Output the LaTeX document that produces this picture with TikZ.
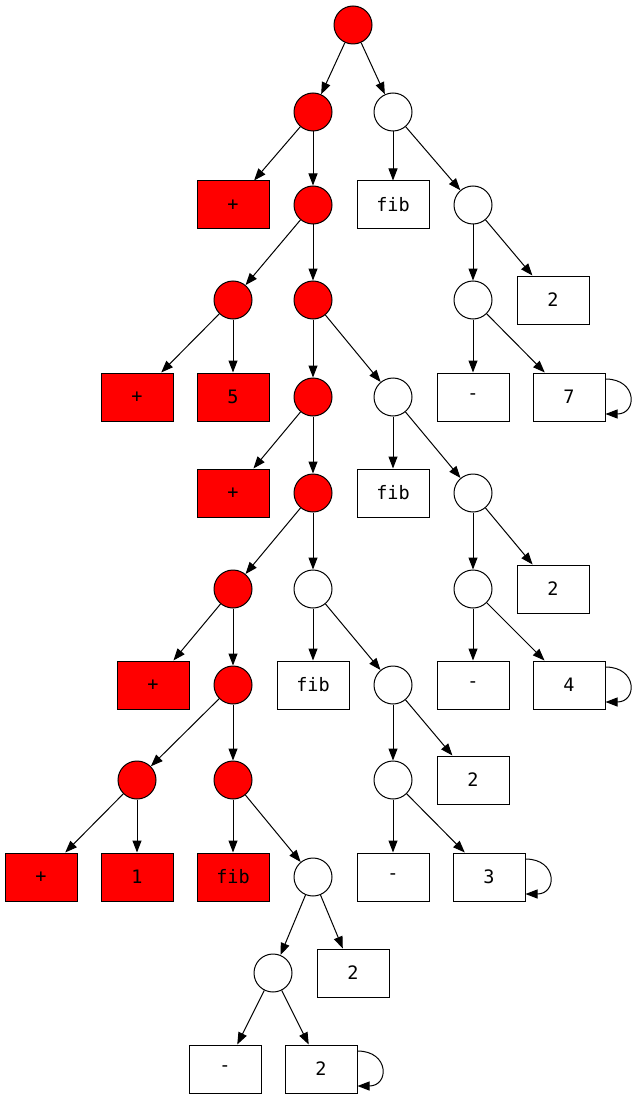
\documentclass[tikz,border=0pt]{standalone}
\usepackage{fontspec}
\setmonofont{DejaVu Sans Mono}
\usetikzlibrary{arrows.meta}
\begin{document}
\begin{tikzpicture}[x=1pt,y=-1pt,
  every node/.style={draw=black,line width=1pt,font=\ttfamily\fontsize{18.5}{18.5}\selectfont,inner sep=0pt},
  rn/.style={circle,fill=red,minimum size=38pt},
  wn/.style={circle,fill=white,minimum size=38pt},
  rb/.style={rectangle,fill=red,minimum width=72pt,minimum height=48pt},
  wb/.style={rectangle,fill=white,minimum width=72pt,minimum height=48pt},
  edge/.style={line width=1pt,-{Triangle[length=12pt,width=9pt]}},
  selfloop/.style={line width=1pt,-{Triangle[length=12pt,width=9pt]}}]
\useasboundingbox (0,0) rectangle (635,1099);
\node[rn] (r) at (353,25) {};
\node[rn] (a) at (313,112) {};
\node[wn] (b) at (393,112) {};
\node[rb] (a1) at (233,205) {+};
\node[rn] (a2) at (313,205) {};
\node[wb] (b1) at (393,205) {fib};
\node[wn] (b2) at (473,205) {};
\node[wn] (b2a) at (473,300) {};
\node[wb] (b2b) at (553,300) {2};
\node[wb] (b2aa) at (473,397) {-};
\node[wb] (b2ab) at (569,397) {7};
\node[rn] (c1) at (233,300) {};
\node[rn] (c2) at (313,300) {};
\node[rb] (c1a) at (137,397) {+};
\node[rb] (c1b) at (233,397) {5};
\node[rn] (d1) at (313,397) {};
\node[wn] (d2) at (393,397) {};
\node[wb] (d2a) at (393,493) {fib};
\node[wn] (d2b) at (473,493) {};
\node[wn] (d2ba) at (473,589) {};
\node[wb] (d2bb) at (553,589) {2};
\node[wb] (d2baa) at (473,685) {-};
\node[wb] (d2bab) at (569,685) {4};
\node[rb] (e1) at (233,493) {+};
\node[rn] (e2) at (313,493) {};
\node[rn] (f1) at (233,589) {};
\node[wn] (f2) at (313,589) {};
\node[wb] (f2a) at (313,685) {fib};
\node[wn] (f2b) at (393,685) {};
\node[wn] (f2ba) at (393,780) {};
\node[wb] (f2bb) at (473,780) {2};
\node[wb] (f2baa) at (393,877) {-};
\node[wb] (f2bab) at (489,877) {3};
\node[rb] (g1) at (153,685) {+};
\node[rn] (g2) at (233,685) {};
\node[rn] (h1) at (137,780) {};
\node[rn] (h2) at (233,780) {};
\node[rb] (h1a) at (41,877) {+};
\node[rb] (h1b) at (137,877) {1};
\node[rb] (h2a) at (233,877) {fib};
\node[wn] (h2b) at (313,877) {};
\node[wn] (i1) at (273,973) {};
\node[wb] (i2) at (353,973) {2};
\node[wb] (i1a) at (225,1069) {-};
\node[wb] (i1b) at (321,1069) {2};
\foreach \p/\c in {r/a,r/b,a/a1,a/a2,b/b1,b/b2,b2/b2a,b2/b2b,b2a/b2aa,b2a/b2ab,
  a2/c1,a2/c2,c1/c1a,c1/c1b,c2/d1,c2/d2,d2/d2a,d2/d2b,d2b/d2ba,d2b/d2bb,
  d2ba/d2baa,d2ba/d2bab,d1/e1,d1/e2,e2/f1,e2/f2,f2/f2a,f2/f2b,f2b/f2ba,f2b/f2bb,
  f2ba/f2baa,f2ba/f2bab,f1/g1,f1/g2,g2/h1,g2/h2,h1/h1a,h1/h1b,h2/h2a,h2/h2b,
  h2b/i1,h2b/i2,i1/i1a,i1/i1b}
  \draw[edge] (\p) -- (\c);
\foreach \n in {b2ab,d2bab,f2bab,i1b}
  \draw[selfloop] ([yshift=18pt]\n.east) .. controls ([xshift=32pt,yshift=18pt]\n.east) and ([xshift=32pt,yshift=-17pt]\n.east) .. ([yshift=-17pt]\n.east);
\end{tikzpicture}
\end{document}
